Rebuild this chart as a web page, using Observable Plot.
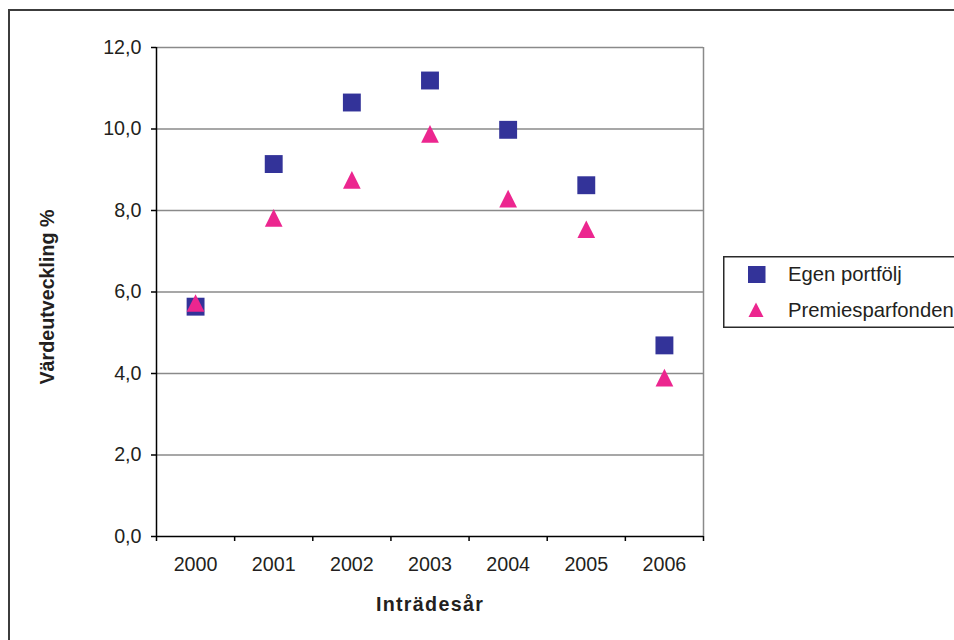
<!DOCTYPE html>
<html>
<head>
<meta charset="utf-8">
<script src="https://cdn.jsdelivr.net/npm/d3@7"></script>
<script src="https://cdn.jsdelivr.net/npm/@observablehq/plot@0.6"></script>
<style>
  html, body { margin: 0; padding: 0; background: #fff; overflow: hidden; width: 954px; height: 640px; }
  #wrap { position: relative; width: 954px; height: 640px; font-family: "Liberation Sans", Arial, sans-serif; }
  #frame { position: absolute; left: 8px; top: 9px; width: 1000px; height: 700px; border: 2px solid #3c3c3c; box-sizing: border-box; }
  #chart { position: absolute; left: 0; top: 0; }
  #legend { position: absolute; left: 723px; top: 256px; overflow: visible; }
  .xt text { letter-spacing: 1.3px; }
</style>
</head>
<body>
<div id="wrap">
  <div id="frame"></div>
  <div id="chart"></div>
</div>
<script>
// ---- data ----
const years = ["2000", "2001", "2002", "2003", "2004", "2005", "2006"];
const egenPortfolj = [5.64, 9.14, 10.65, 11.19, 9.98, 8.62, 4.69];
const premiesparfonden = [5.73, 7.82, 8.75, 9.88, 8.29, 7.54, 3.90];
const yTicks = [0, 2, 4, 6, 8, 10, 12];
const seriesNames = ["Egen portfölj", "Premiesparfonden"];
const seriesColors = ["#333399", "#ec268f"];

// ---- build ----
const egenData = years.map((y, i) => ({ pos: i + 0.5, year: y, v: egenPortfolj[i] }));
const premieData = years.map((y, i) => ({ pos: i + 0.5, year: y, v: premiesparfonden[i] }));

const squareSym = { draw(ctx, size) { const w = Math.sqrt(size); ctx.rect(-w / 2, -w / 2, w, w); } };
const triSym = { draw(ctx, size) { const w = Math.sqrt(size); ctx.moveTo(0, -w / 2); ctx.lineTo(w / 2, w / 2); ctx.lineTo(-w / 2, w / 2); ctx.closePath(); } };

const fmt = d => d.toFixed(1).replace(".", ",");

const plot = Plot.plot({
  width: 954,
  height: 640,
  marginLeft: 156,
  marginRight: 251,
  marginTop: 47,
  marginBottom: 104,
  style: { fontFamily: '"Liberation Sans", Arial, sans-serif', fontSize: "19.7px", color: "#231f20", background: "transparent", overflow: "visible" },
  x: { type: "linear", domain: [0, years.length], axis: null },
  y: { domain: [0, 12], axis: null },
  marks: [
    Plot.gridY(yTicks.slice(1), { stroke: "#8a8a8a", strokeOpacity: 1, strokeWidth: 1.5 }),
    Plot.ruleX([years.length], { stroke: "#8a8a8a", strokeWidth: 1.5 }),
    Plot.ruleX([0], { stroke: "#000", strokeWidth: 1.5 }),
    Plot.ruleY([0], { stroke: "#000", strokeWidth: 1.5 }),
    Plot.axisY({ ticks: yTicks, tickFormat: fmt, tickSize: 5, tickPadding: 10, stroke: "#000", strokeWidth: 1.5, label: null }),
    Plot.axisX({ ticks: d3.range(years.length + 1), tickFormat: () => "", tickSize: 5, stroke: "#000", strokeWidth: 1.5, label: null }),
    Plot.axisX({ ticks: years.map((_, i) => i + 0.5), tickFormat: v => years[Math.round(v - 0.5)], tickSize: 0, tickPadding: 20, label: null }),
    Plot.dot(egenData, { x: "pos", y: "v", symbol: squareSym, r: 10.1, fill: seriesColors[0], stroke: null }),
    Plot.dot(premieData, { x: "pos", y: "v", symbol: triSym, r: 10, fill: seriesColors[1], stroke: null }),
    Plot.text(["Värdeutveckling %"], { frameAnchor: "left", textAnchor: "middle", lineAnchor: "middle", dx: -109, dy: 5, rotate: -90, fontWeight: "bold", fill: "#231f20" }),
    Plot.text(["Inträdesår"], { frameAnchor: "bottom", textAnchor: "middle", lineAnchor: "middle", dy: 68, fontWeight: "bold", fill: "#231f20", className: "xt" })
  ]
});
document.getElementById("chart").appendChild(plot);

// ---- legend ----
const leg = d3.select("#wrap").append("svg")
  .attr("id", "legend")
  .attr("width", 300).attr("height", 74)
  .style("font-family", '"Liberation Sans", Arial, sans-serif')
  .style("font-size", "20.3px");
leg.append("rect").attr("x", 0.75).attr("y", 0.75).attr("width", 296).attr("height", 70.5)
  .attr("fill", "#fff").attr("stroke", "#2a2a2a").attr("stroke-width", 1.5);
leg.append("rect").attr("x", 25).attr("y", 10).attr("width", 17.5).attr("height", 17)
  .attr("fill", seriesColors[0]);
leg.append("path").attr("d", "M33,46.5L40.5,61L25.5,61Z").attr("fill", seriesColors[1]);
leg.append("text").attr("x", 65).attr("y", 24.5).attr("fill", "#231f20").text(seriesNames[0]);
leg.append("text").attr("x", 65).attr("y", 61).attr("fill", "#231f20").text(seriesNames[1]);
</script>
</body>
</html>
